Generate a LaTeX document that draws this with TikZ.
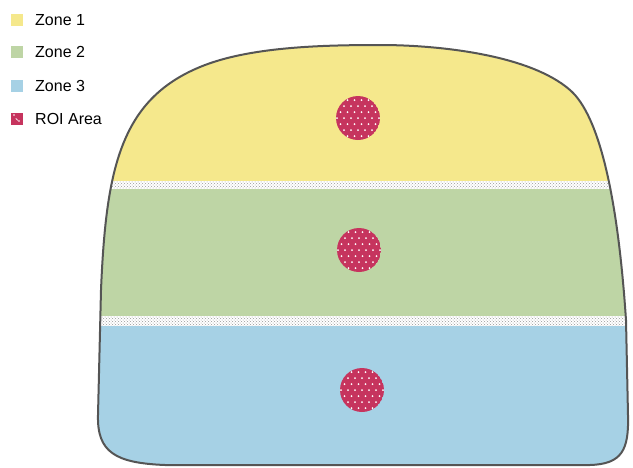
\documentclass[tikz,border=0pt]{standalone}
\usepackage{fontspec}
\setmainfont{Liberation Sans}
\usetikzlibrary{patterns}
\definecolor{zoneyellow}{RGB}{245,232,140}
\definecolor{zonegreen}{RGB}{190,213,165}
\definecolor{zoneblue}{RGB}{166,209,229}
\definecolor{roired}{RGB}{198,52,94}
\definecolor{outlinegray}{RGB}{85,85,85}
\tikzset{
  legbox/.style={minimum size=12pt, inner sep=0pt},
  legtext/.style={anchor=west, inner sep=0pt, font=\fontsize{16}{18}\selectfont},
  strip/.style={fill=white},
  stripdots/.style={pattern=crosshatch dots, pattern color=black!40},
  roi/.style={fill=roired}
}
\newcommand{\roidisc}[3]{%
  \begin{scope}
    \clip (#1,#2) circle (22);
    \fill[roired] (#1,#2) circle (22);
    \foreach \i in {-4,...,4}{
      \foreach \j in {-4,...,4}{
        \fill[white] ({#1+7*\i+3.5*mod(\j+4,2)},{#2+6*\j}) circle (1);
      }
    }
  \end{scope}
  \coordinate (#3) at (#1,#2);
}
\begin{document}
\begin{tikzpicture}[x=1pt,y=-1pt]
\useasboundingbox (0,0) rectangle (633,467);
% legend
\node[legbox, fill=zoneyellow] (l1) at (17,20) {};
\node[legtext] (t1) at (35,20) {Zone 1};
\node[legbox, fill=zonegreen] (l2) at (17,52) {};
\node[legtext] (t2) at (35,52) {Zone 2};
\node[legbox, fill=zoneblue] (l3) at (17,86) {};
\node[legtext] (t3) at (35,86) {Zone 3};
\node[legbox, fill=roired] (l4) at (17,119) {};
\node[legtext] (t4) at (35,119) {ROI Area};
\fill[white] (14,115) circle (0.8) (19,121) circle (0.8) (16,118) -- (18,120) -- (17.5,120.5) -- (15.5,118.5) -- cycle;
% shape
\def\outline{(98,415) .. controls (97,452) and (115,463) .. (165,465) -- (590,465) .. controls (622,464) and (629,450) .. (628,415) -- (626,320) .. controls (618,200) and (600,116) .. (570,90) .. controls (530,55) and (440,45) .. (380,45) .. controls (320,45) and (248,47) .. (200,67) .. controls (120,100) and (106,170) .. (101,290) -- cycle}
\begin{scope}
  \clip \outline;
  \fill[zoneyellow] (80,30) rectangle (640,181);
  \fill[strip] (80,181) rectangle (640,189);
  \fill[stripdots] (80,181) rectangle (640,189);
  \fill[zonegreen] (80,189) rectangle (640,316);
  \fill[strip] (80,316) rectangle (640,326);
  \fill[stripdots] (80,316) rectangle (640,326);
  \fill[zoneblue] (80,326) rectangle (640,470);
\end{scope}
\draw[outlinegray, line width=2pt, line join=round] \outline;
% ROI areas
\roidisc{358}{118}{r1}
\roidisc{359}{250}{r2}
\roidisc{362}{390}{r3}
\end{tikzpicture}
\end{document}
